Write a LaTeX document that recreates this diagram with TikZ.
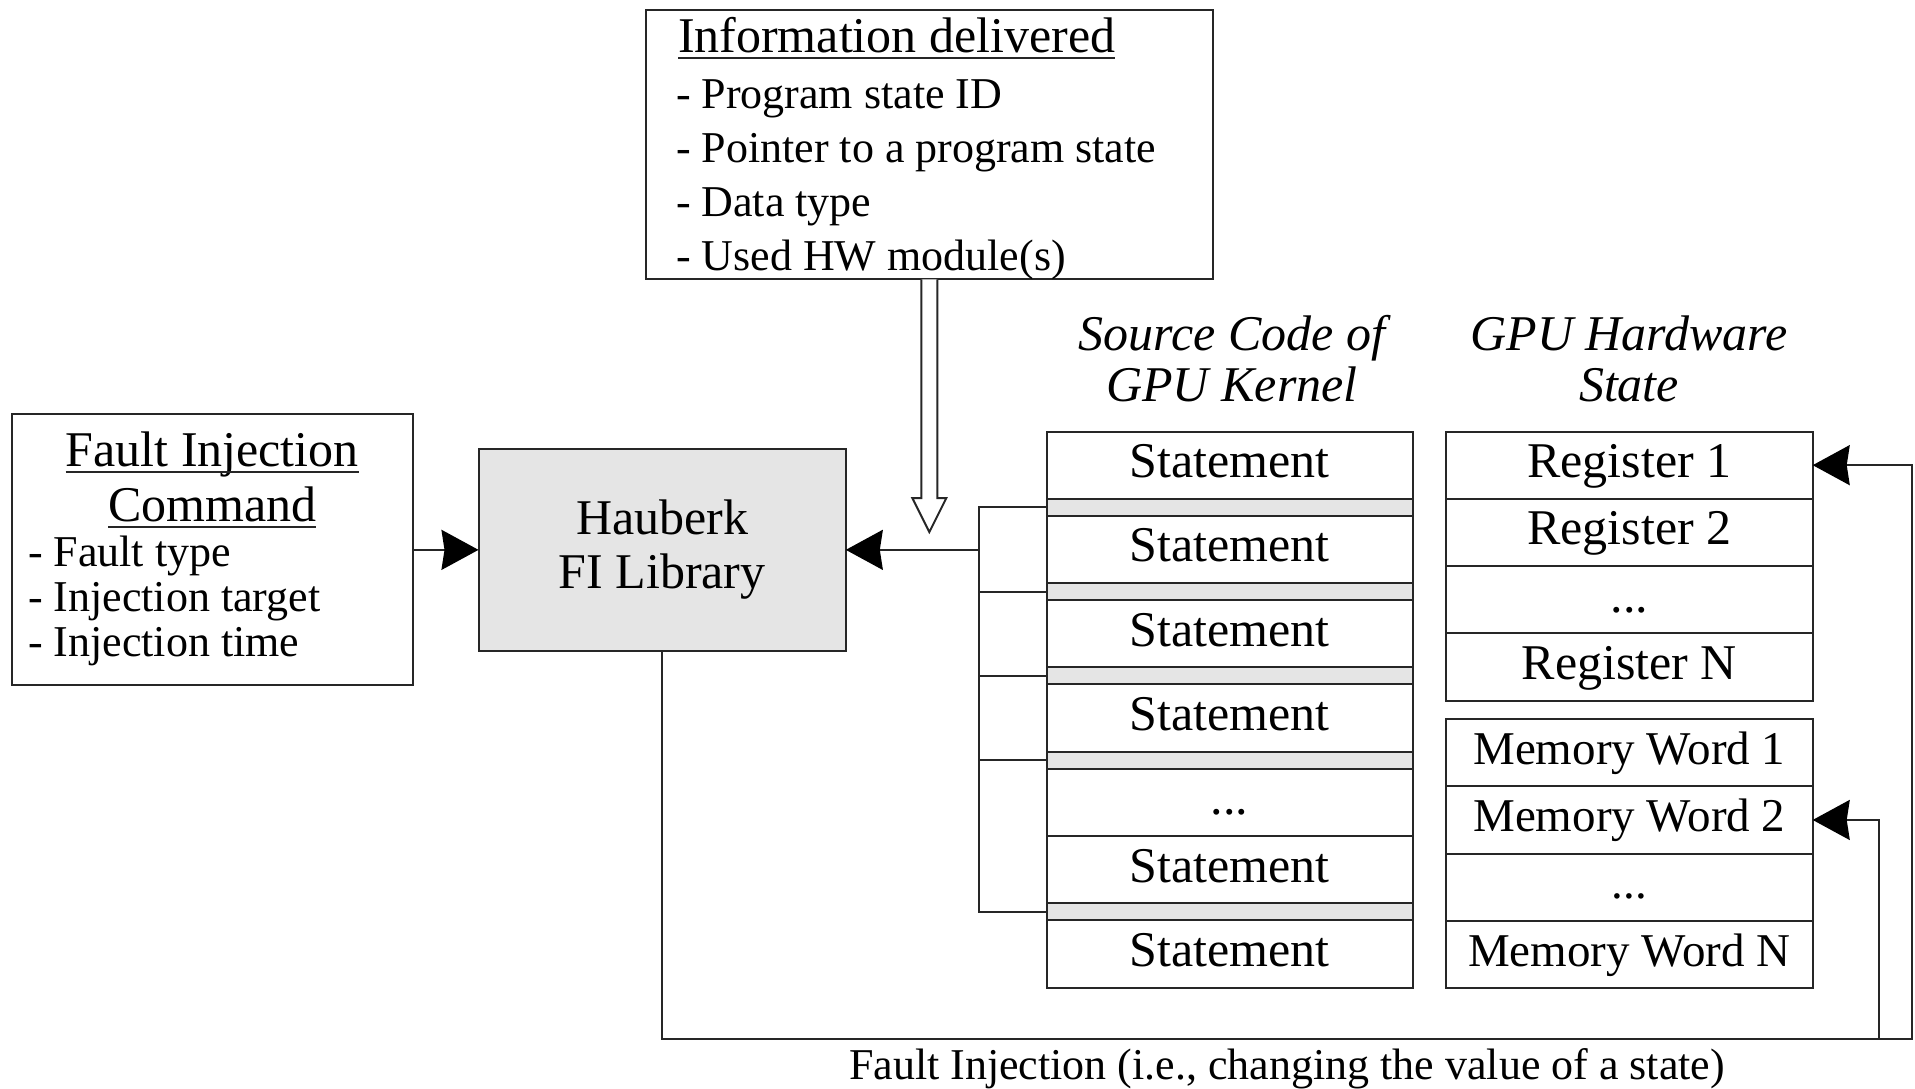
\documentclass[tikz,border=0pt]{standalone}
\usepackage{fontspec}
\setmainfont{Liberation Serif}
\usetikzlibrary{arrows.meta,positioning,calc}

\begin{document}
\begin{tikzpicture}[x=0.5pt,y=-0.5pt,
  ln/.style={draw=black!85, line width=1pt},
  box/.style={ln, rectangle, inner sep=0pt, outer sep=0pt},
  big/.style={font=\fontsize{25}{27}\selectfont},
  small/.style={font=\fontsize{22}{26}\selectfont},
  txt/.style={inner sep=0pt, outer sep=0pt},
  cell/.style={box, minimum width=183pt, minimum height=33.65pt, text height=16.5pt, text depth=4pt, big},
  strip/.style={box, fill=black!10, minimum width=183pt, minimum height=8.5pt},
  regcell/.style={box, minimum width=183.35pt, minimum height=33.65pt, text height=16.5pt, text depth=4pt, big},
  memcell/.style={regcell, font=\fontsize{23.5}{27}\selectfont, text height=15.5pt, text depth=3.8pt},
  arr/.style={ln, -{Stealth[length=18.5pt,width=20pt,inset=1.5pt,color=black]}},
  uline/.style={line width=1pt, draw=black!85},
]
\useasboundingbox (0,0) rectangle (1915,1088);

% ---- information delivered box ----
\node[box, minimum width=283.65pt, minimum height=134.65pt] (info) at (929.35,144.65) {};
\node[txt, big, anchor=base west] (infot) at (678,52) {Information delivered};
\draw[uline] ([yshift=-3pt]infot.base west) -- ([yshift=-3pt]infot.base east);
\node[txt, small, anchor=base west] (i1) at (676,108) {- Program state ID};
\node[txt, small, anchor=base west] (i2) at (676,162) {- Pointer to a program state};
\node[txt, small, anchor=base west] (i3) at (676,216.5) {- Data type};
\node[txt, small, anchor=base west] (i4) at (676,270) {- Used HW module(s)};

% ---- fault injection command box ----
\node[box, minimum width=200.5pt, minimum height=135.5pt] (fic) at (212.2,549.85) {};
\node[txt, big, anchor=base] (fict1) at (212.2,466.5) {Fault Injection};
\draw[uline] ([yshift=-2.5pt]fict1.base west) -- ([yshift=-2.5pt]fict1.base east);
\node[txt, big, anchor=base] (fict2) at (212.2,521.5) {Command};
\draw[uline] ([yshift=-2.5pt]fict2.base west) -- ([yshift=-2.5pt]fict2.base east);
\node[txt, small, anchor=base west] (f1) at (28,566.5) {- Fault type};
\node[txt, small, anchor=base west] (f2) at (28,611.5) {- Injection target};
\node[txt, small, anchor=base west] (f3) at (28,656.5) {- Injection time};

% ---- fault injection library ----
\node[box, fill=black!10, minimum width=183.65pt, minimum height=100.85pt, align=center, big]
  (hauberk) at (662.15,549.85) {Hauberk\\FI Library};

% ---- column headings ----
\node[txt, font=\fontsize{25}{27}\selectfont\itshape, anchor=base] (h1a) at (1232,350) {Source Code of};
\node[txt, font=\fontsize{25}{27}\selectfont\itshape, anchor=base] (h1b) at (1232,401.5) {GPU Kernel};
\node[txt, font=\fontsize{25}{27}\selectfont\itshape, anchor=base] (h2a) at (1629,350) {GPU Hardware};
\node[txt, font=\fontsize{25}{27}\selectfont\itshape, anchor=base] (h2b) at (1629,401.5) {State};

% ---- kernel statements ----
\node[cell, anchor=north] (s1) at (1229.7,431.5) {Statement};
\node[strip, below=0pt of s1] (g1) {};
\node[cell, below=0pt of g1] (s2) {Statement};
\node[strip, below=0pt of s2] (g2) {};
\node[cell, below=0pt of g2] (s3) {Statement};
\node[strip, below=0pt of s3] (g3) {};
\node[cell, below=0pt of g3] (s4) {Statement};
\node[strip, below=0pt of s4] (g4) {};
\node[cell, below=0pt of g4] (sd) {...};
\node[cell, below=0pt of sd] (s5) {Statement};
\node[strip, below=0pt of s5] (g5) {};
\node[cell, below=0pt of g5] (s6) {Statement};

% ---- registers ----
\node[regcell, anchor=north] (r1) at (1629.35,431.5) {Register 1};
\node[regcell, below=0pt of r1] (r2) {Register 2};
\node[regcell, below=0pt of r2] (r3) {...};
\node[regcell, below=0pt of r3] (rn) {Register N};

% ---- memory words ----
\node[memcell, anchor=north] (m1) at (1629.35,719) {Memory Word 1};
\node[memcell, below=0pt of m1] (m2) {Memory Word 2};
\node[memcell, below=0pt of m2] (m3) {...};
\node[memcell, below=0pt of m3] (mn) {Memory Word N};

% ---- connectors ----
\draw[arr] (fic.east) -- (hauberk.west);

% probe points collected from the instrumentation strips
\coordinate (bx) at (979,0);
\draw[ln] (g1.west) -- (g1.west -| bx) -- (g5.west -| bx) -- (g5.west);
\foreach \g in {g2,g3,g4} \draw[ln] (\g.west) -- (\g.west -| bx);
\draw[arr] (bx |- hauberk.east) -- (hauberk.east);

% hollow block arrow from the information box
\coordinate (tip) at (929.35,532);
\draw[ln, fill=white]
  ($(info.south)+(-8,0)$) -- ($(tip)+(-8,-34)$) -- ($(tip)+(-17,-34)$) -- (tip)
  -- ($(tip)+(17,-34)$) -- ($(tip)+(8,-34)$) -- ($(info.south)+(8,0)$);

% injection paths into the hardware state
\coordinate (fr) at (1912,1038.5);
\coordinate (fi) at (1879,1038.5);
\draw[arr] (hauberk.south) |- (fr) |- (r1.east);
\draw[arr] (fi) |- (m2.east);
\node[txt, small, anchor=base] (fil) at (1287,1079) {Fault Injection (i.e., changing the value of a state)};
\end{tikzpicture}
\end{document}
